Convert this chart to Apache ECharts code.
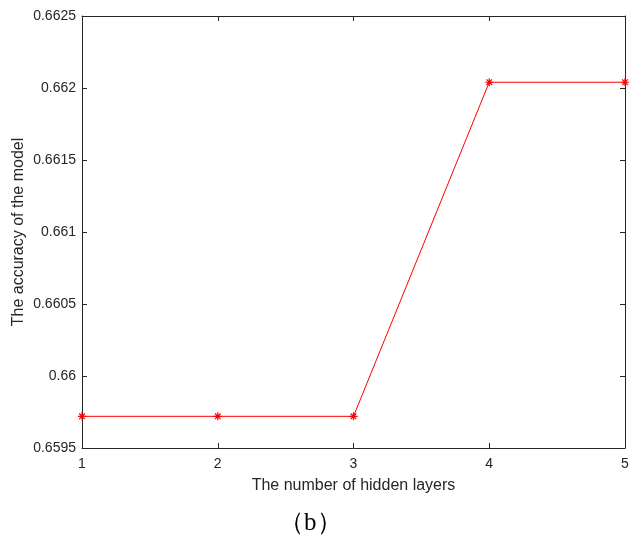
<!DOCTYPE html>
<html><head><meta charset="utf-8">
<script src="https://cdn.jsdelivr.net/npm/echarts@6/dist/echarts.min.js"></script>
<style>html,body{margin:0;padding:0;background:#fff}#c{width:632px;height:536px}</style>
</head><body><div id="c"></div>
<script>
const layers = [1, 2, 3, 4, 5];
const accuracy = [0.65972, 0.65972, 0.65972, 0.66204, 0.66204];
const yTicks = [0.6595, 0.66, 0.6605, 0.661, 0.6615, 0.662, 0.6625];

const chart = echarts.init(document.getElementById('c'));
const fmtY = v => String(parseFloat(v.toFixed(4)));
const font = 'Arial, Liberation Sans, sans-serif';
const axisCommon = {
  axisLine: {show: true, lineStyle: {color: '#262626', width: 1}},
  axisTick: {show: true, inside: true, length: 5, lineStyle: {color: '#262626'}},
  splitLine: {show: false}
};
chart.setOption({
  animation: false,
  backgroundColor: '#fff',
  title: {text: '（b）', left: 274, top: 506,
    textStyle: {fontFamily: 'Liberation Serif, DejaVu Serif, serif', fontSize: 25, fontWeight: 'normal', color: '#000'}},
  grid: {left: 82, right: 7, top: 16, bottom: 88},
  xAxis: [
    Object.assign({type: 'value', min: 1, max: 5, interval: 1, position: 'bottom',
      name: 'The number of hidden layers', nameLocation: 'middle', nameGap: 30,
      nameTextStyle: {fontFamily: font, fontSize: 16, color: '#262626'},
      axisLabel: {fontFamily: font, fontSize: 14, color: '#262626', margin: 9}}, axisCommon),
    Object.assign({type: 'value', min: 1, max: 5, interval: 1, position: 'top', axisLabel: {show: false}}, axisCommon)
  ],
  yAxis: [
    Object.assign({type: 'value', min: yTicks[0], max: yTicks[yTicks.length-1], interval: 0.0005, position: 'left',
      name: 'The accuracy of the model', nameLocation: 'middle', nameGap: 55, nameMoveOverlap: false,
      nameTextStyle: {fontFamily: font, fontSize: 16, color: '#262626'},
      axisLabel: {fontFamily: font, fontSize: 14, color: '#262626', margin: 6, formatter: fmtY}}, axisCommon),
    Object.assign({type: 'value', min: yTicks[0], max: yTicks[yTicks.length-1], interval: 0.0005, position: 'right', axisLabel: {show: false}}, axisCommon)
  ],
  series: [{
    type: 'line',
    data: layers.map((x, i) => [x, accuracy[i]]),
    lineStyle: {color: '#ff0000', width: 1},
    symbol: 'path://M0,-5L0,5M-5,0L5,0M-3.5,-3.5L3.5,3.5M-3.5,3.5L3.5,-3.5',
    symbolSize: 8,
    itemStyle: {color: 'none', borderColor: '#ff0000', borderWidth: 1.2},
    clip: false
  }]
});
</script></body></html>
